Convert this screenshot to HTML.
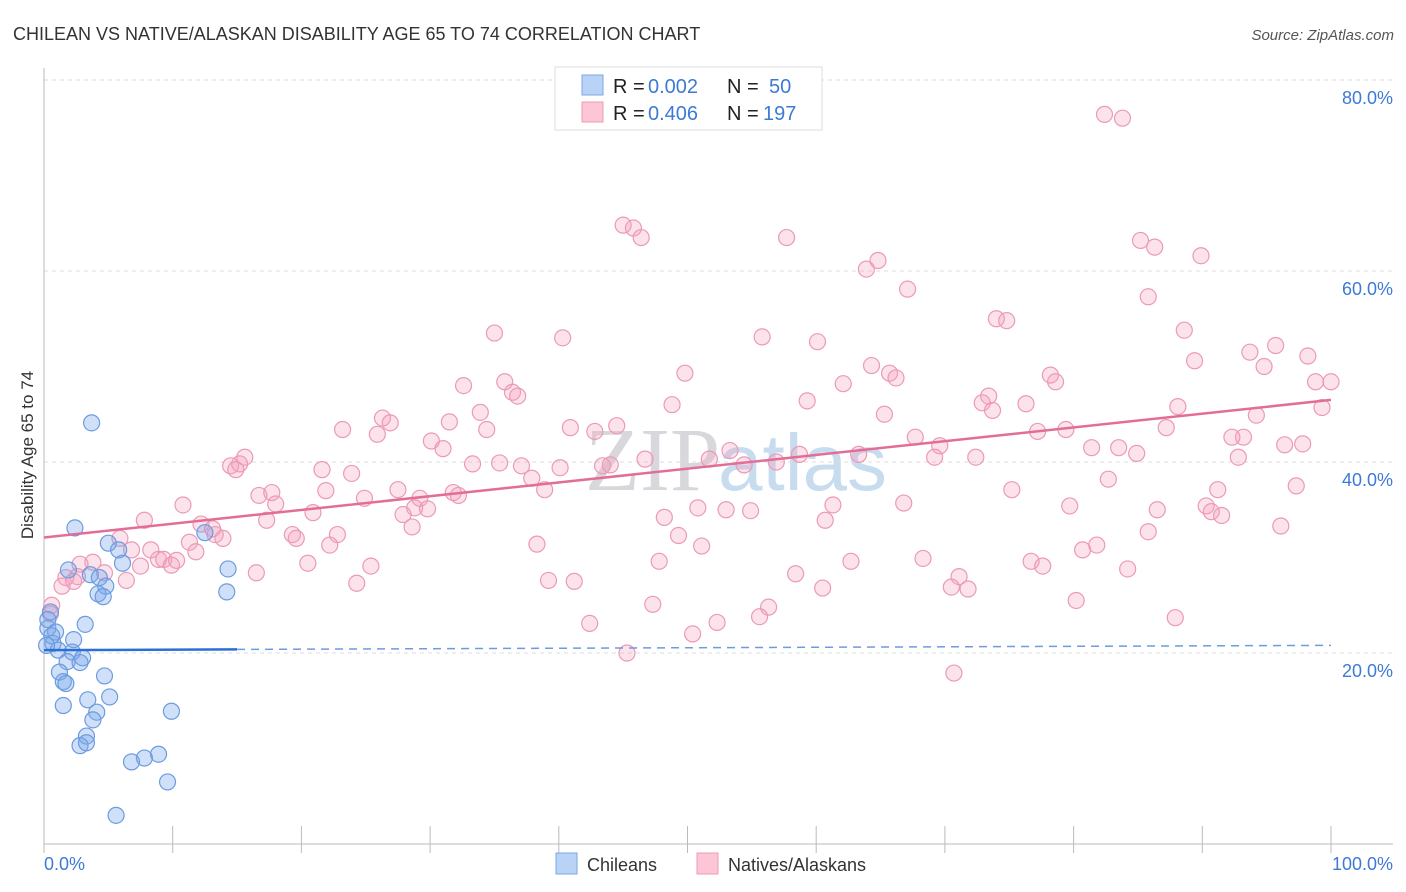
<!DOCTYPE html>
<html><head><meta charset="utf-8"><style>
body{margin:0;background:#fff;font-family:"Liberation Sans",sans-serif;}
svg{display:block}
</style></head><body>
<svg id="c" width="1406" height="892">
<text x="13" y="40" font-size="18" fill="#333">CHILEAN VS NATIVE/ALASKAN DISABILITY AGE 65 TO 74 CORRELATION CHART</text>
<text x="1394" y="40" font-size="15" fill="#555" font-style="italic" text-anchor="end">Source: ZipAtlas.com</text>
<text x="720" y="490" font-size="90" fill="#d8d8dc" text-anchor="end" font-family="Liberation Serif,serif">ZIP</text>
<text x="718" y="490" font-size="80" fill="#c8dcf0">atlas</text>
<g id="grid"></g>
<g id="axes"></g>
<g id="pts"></g>
<g id="lines"></g>
<text transform="translate(33,455) rotate(-90)" font-size="17" fill="#333" text-anchor="middle">Disability Age 65 to 74</text>
<text x="44" y="870" font-size="18" fill="#3d7ad6">0.0%</text>
<text x="1393" y="870" font-size="18" fill="#3d7ad6" text-anchor="end">100.0%</text>
<g>
<rect x="555" y="67" width="267" height="63" fill="#fff" stroke="#ddd"/>
<rect x="582" y="75" width="21" height="20" fill="#b9d3f7" stroke="#7aa7e6"/>
<rect x="582" y="102" width="21" height="20" fill="#fcc6d6" stroke="#ec9cb6"/>
<text x="613" y="93" font-size="20" fill="#222">R = </text>
<text x="648" y="93" font-size="20" fill="#3d7ad6">0.002</text>
<text x="727" y="93" font-size="20" fill="#222">N = </text>
<text x="769" y="93" font-size="20" fill="#3d7ad6">50</text>
<text x="613" y="120" font-size="20" fill="#222">R = </text>
<text x="648" y="120" font-size="20" fill="#3d7ad6">0.406</text>
<text x="727" y="120" font-size="20" fill="#222">N = </text>
<text x="763" y="120" font-size="20" fill="#3d7ad6">197</text>
</g>
<g>
<rect x="556" y="853" width="21" height="21" fill="#b9d3f7" stroke="#7aa7e6"/>
<text x="587" y="871" font-size="18" fill="#333">Chileans</text>
<rect x="697" y="853" width="21" height="21" fill="#fcc6d6" stroke="#ec9cb6"/>
<text x="728" y="871" font-size="18" fill="#333">Natives/Alaskans</text>
</g>
</svg>
<script>
const yTicks=[20,40,60,80];
const blueX=[2.4,3.7,5.0,5.8,6.1,1.9,3.6,4.3,4.8,4.2,4.6,14.3,14.2,12.5,0.5,0.3,0.9,3.2,2.3,0.7,1.1,2.2,3.0,1.8,2.8,1.2,4.7,1.5,1.7,3.4,5.1,1.5,4.1,3.8,9.9,3.3,2.8,3.3,8.9,7.8,6.8,9.6,5.6,0.3,0.6,0.2];
const blueY=[33.1,44.1,31.5,30.8,29.4,28.7,28.2,27.9,27.0,26.2,25.9,28.8,26.4,32.6,24.3,22.6,22.2,23.0,21.4,21.0,20.3,20.1,19.5,19.1,19.0,18.0,17.6,17.0,16.8,15.1,15.4,14.5,13.8,13.0,13.9,11.3,10.3,10.6,9.4,9.0,8.6,6.5,3.0,23.5,21.8,20.8];
const pinkX=[82.4,83.8,45.0,45.8,46.4,57.7,85.2,86.3,89.9,64.8,63.9,67.1,85.8,74.0,74.8,35.0,40.3,55.8,60.1,88.6,95.7,93.7,98.2,89.4,94.8,64.3,49.8,65.7,66.2,78.2,78.6,98.8,100,32.6,35.8,36.4,36.8,62.1,73.4,72.9,73.7,76.3,59.3,48.8,88.1,99.3,94.2,33.9,31.5,26.3,26.9,65.3,34.4,23.2,25.9,40.9,42.8,44.5,77.2,79.4,87.2,93.2,92.3,67.7,30.1,31.0,53.3,63.3,58.7,69.6,69.2,81.4,83.5,84.9,96.4,97.8,92.8,15.6,15.2,14.5,14.9,33.3,35.4,37.1,40.1,43.4,44.0,46.7,51.7,54.4,56.9,72.4,21.6,23.9,37.9,82.7,91.2,97.3,75.2,21.9,27.5,31.8,32.2,38.9,16.7,17.7,18.0,24.9,29.2,28.8,29.8,10.8,50.8,53.0,54.9,61.3,66.8,79.7,86.5,90.3,90.7,91.5,48.2,60.7,20.9,27.9,28.6,17.3,7.8,12.2,13.1,13.3,13.9,19.3,19.6,22.8,5.9,49.3,96.1,11.3,22.2,38.3,51.1,81.8,80.7,85.8,6.8,8.3,8.9,11.8,9.3,9.9,10.3,3.8,20.5,68.3,62.7,47.8,76.7,77.6,2.8,7.5,25.4,84.2,2.6,1.7,4.7,6.4,16.5,58.4,71.1,2.3,39.2,41.2,24.3,1.4,60.5,70.5,71.8,80.2,47.3,56.3,55.6,42.4,52.3,87.9,50.4,45.3,70.7,0.6,0.5];
const pinkY=[76.4,76.0,64.8,64.5,63.5,63.5,63.2,62.5,61.6,61.1,60.2,58.1,57.3,55.0,54.8,53.5,53.0,53.1,52.6,53.8,52.2,51.5,51.1,50.6,50.0,50.1,49.3,49.3,48.8,49.1,48.4,48.4,48.4,48.0,48.4,47.3,46.9,48.2,46.9,46.2,45.4,46.1,46.4,46.0,45.8,45.7,44.9,45.2,44.2,44.6,44.1,45.0,43.4,43.4,42.9,43.6,43.2,43.8,43.2,43.4,43.6,42.6,42.6,42.6,42.2,41.4,41.2,40.8,40.8,41.7,40.5,41.5,41.5,40.9,41.8,41.9,40.5,40.5,39.8,39.6,39.2,39.8,39.9,39.6,39.4,39.6,39.7,40.3,40.3,39.7,40.0,40.5,39.2,38.8,38.3,38.2,37.1,37.5,37.1,37.0,37.1,36.8,36.5,37.1,36.5,36.8,35.6,36.2,36.2,35.2,35.1,35.5,35.2,35.0,34.9,35.5,35.7,35.4,35.0,35.4,34.8,34.4,34.2,33.9,34.7,34.5,33.2,33.9,33.9,33.5,33.0,32.4,32.0,32.4,32.0,32.4,32.0,32.3,33.3,31.6,31.3,31.4,31.2,31.3,30.8,32.7,30.8,30.8,29.8,30.6,29.8,29.2,29.7,29.5,29.4,29.9,29.6,29.6,29.6,29.1,29.3,29.1,29.1,28.8,28.0,27.9,28.4,27.6,28.4,28.3,28.0,27.5,27.6,27.5,27.3,27.0,26.8,26.9,26.7,25.5,25.1,24.8,23.8,23.1,23.2,23.7,22.0,20.0,17.9,25.0,24.1];
const blueFit=[20.3,20.8];
const pinkFit=[32.1,46.5];
const X=v=>44+v*12.87, Y=v=>844-v*9.55;
const NS='http://www.w3.org/2000/svg';
function mk(p,t,a){const e=document.createElementNS(NS,t);for(const k in a)e.setAttribute(k,a[k]);p.appendChild(e);return e;}
const g=document.getElementById('grid'),ax=document.getElementById('axes'),pts=document.getElementById('pts'),ln=document.getElementById('lines');
yTicks.forEach(t=>{
 const l=mk(g,'line',{x1:44,x2:1393,y1:Y(t),y2:Y(t),stroke:'#ddd','stroke-dasharray':'4,4'});
 
 
 const tx=mk(g,'text',{x:1393,y:Y(t)+24,'font-size':18,fill:'#3d7ad6','text-anchor':'end'});
 tx.textContent=t.toFixed(1)+'%';
 
 
});
const ya=mk(ax,'line',{x1:44,x2:44,y1:68,y2:844,stroke:'#bbb'});


const xa=mk(ax,'line',{x1:44,x2:1393,y1:844,y2:844,stroke:'#bbb'});


for(let i=0;i<=10;i++){const t=mk(ax,'line',{x1:X(i*10),x2:X(i*10),y1:826,y2:853,stroke:'#bbb'});
 
 }
pinkX.forEach((x,i)=>{const c=mk(pts,'circle',{cx:X(x),cy:Y(pinkY[i]),r:8,fill:'rgba(244,160,188,0.3)',stroke:'#eb9ab6','stroke-width':1.2});
 
 });
blueX.forEach((x,i)=>{const c=mk(pts,'circle',{cx:X(x),cy:Y(blueY[i]),r:8,fill:'rgba(120,165,235,0.35)',stroke:'#6c9be0','stroke-width':1.2});
 
 });
const bfy=x=>blueFit[0]+(blueFit[1]-blueFit[0])*x/100;
const b1=mk(ln,'line',{x1:X(0),y1:Y(bfy(0)),x2:X(15),y2:Y(bfy(15)),stroke:'#2a6fd6','stroke-width':2.5});


const b2=mk(ln,'line',{x1:X(15),y1:Y(bfy(15)),x2:X(100),y2:Y(bfy(100)),stroke:'#6c9be0','stroke-width':1.5,'stroke-dasharray':'8,6'});


const p1=mk(ln,'line',{x1:X(0),y1:Y(pinkFit[0]),x2:X(100),y2:Y(pinkFit[1]),stroke:'#e26e98','stroke-width':2.5});


</script>
</body></html>
